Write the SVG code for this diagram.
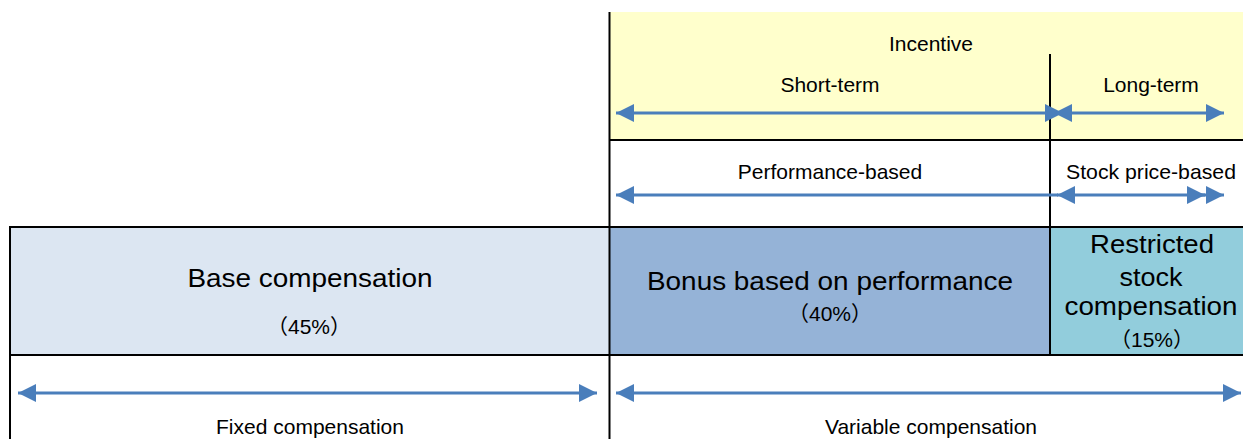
<svg xmlns="http://www.w3.org/2000/svg" width="1243" height="439" viewBox="0 0 1243 439">
<style>
.t{font-family:"Liberation Sans","Noto Sans CJK JP",Arial,sans-serif;fill:#000;text-anchor:middle}
.s{font-size:21px}
.b{font-size:26px}
.p{font-size:21px}
.ln{stroke:#000;stroke-width:2;fill:none}
.ar{stroke:#4A7EBB;stroke-width:3;fill:none}
</style>
<defs>
<marker id="ah" markerUnits="userSpaceOnUse" markerWidth="18" markerHeight="18" viewBox="0 -8 16 16" refX="16" refY="0" orient="auto-start-reverse">
<path d="M0,-8 L16,0 L0,8 Z" fill="#4A7EBB"/>
</marker>
</defs>
<rect width="1243" height="439" fill="#fff"/>

<g id="incentive">
<rect x="610" y="12" width="633" height="128" fill="#FFFFCC"/>
<text class="t s" x="931" y="51">Incentive</text>
</g>
<g id="short-term">
<text class="t s" x="830" y="92">Short-term</text>
</g>
<g id="long-term">
<text class="t s" x="1151" y="92">Long-term</text>
</g>
<g id="performance-based">
<text class="t s" x="830" y="179">Performance-based</text>
</g>
<g id="stock-price-based">
<text class="t s" x="1151" y="179" textLength="170" lengthAdjust="spacingAndGlyphs">Stock price-based</text>
</g>

<g id="base">
<rect x="10" y="227" width="600" height="128" fill="#DCE6F2"/>
<text class="t b" x="310" y="287" textLength="245" lengthAdjust="spacingAndGlyphs">Base compensation</text>
<text class="t p" x="309" y="334">（45%）</text>
</g>
<g id="bonus">
<rect x="610" y="227" width="440" height="128" fill="#95B3D7"/>
<text class="t b" x="830" y="290" textLength="366" lengthAdjust="spacingAndGlyphs">Bonus based on performance</text>
<text class="t p" x="830" y="321">（40%）</text>
</g>
<g id="restricted">
<rect x="1050" y="227" width="193" height="128" fill="#92CDDC"/>
<text class="t b" x="1152" y="253" textLength="124" lengthAdjust="spacingAndGlyphs">Restricted</text>
<text class="t b" x="1151" y="286" textLength="63" lengthAdjust="spacingAndGlyphs">stock</text>
<text class="t b" x="1151" y="315" textLength="173" lengthAdjust="spacingAndGlyphs">compensation</text>
<text class="t p" x="1152" y="347">（15%）</text>
</g>
<g id="fixed">
<text class="t s" x="310" y="434">Fixed compensation</text>
</g>
<g id="variable">
<text class="t s" x="931" y="434">Variable compensation</text>
</g>

<g id="frame">
<line class="ln" x1="609.5" y1="12" x2="609.5" y2="439"/>
<line class="ln" x1="1050" y1="54" x2="1050" y2="355"/>
<line class="ln" x1="609" y1="140" x2="1243" y2="140"/>
<line class="ln" x1="10" y1="227" x2="1243" y2="227"/>
<line class="ln" x1="10" y1="355" x2="1243" y2="355"/>
<line class="ln" x1="10" y1="226" x2="10" y2="439"/>
</g>

<g id="connectors">
<line class="ar" x1="616" y1="113" x2="1063" y2="113" marker-start="url(#ah)" marker-end="url(#ah)"/>
<line class="ar" x1="1054" y1="113" x2="1224" y2="113" marker-start="url(#ah)" marker-end="url(#ah)"/>
<line class="ar" x1="616" y1="195" x2="1058" y2="195" marker-start="url(#ah)"/>
<line class="ar" x1="1057" y1="195" x2="1205" y2="195" marker-start="url(#ah)" marker-end="url(#ah)"/>
<line class="ar" x1="1195" y1="195" x2="1224" y2="195" marker-end="url(#ah)"/>
<line class="ar" x1="18" y1="393" x2="597" y2="393" marker-start="url(#ah)" marker-end="url(#ah)"/>
<line class="ar" x1="616" y1="393" x2="1241" y2="393" marker-start="url(#ah)" marker-end="url(#ah)"/>
</g>
</svg>
